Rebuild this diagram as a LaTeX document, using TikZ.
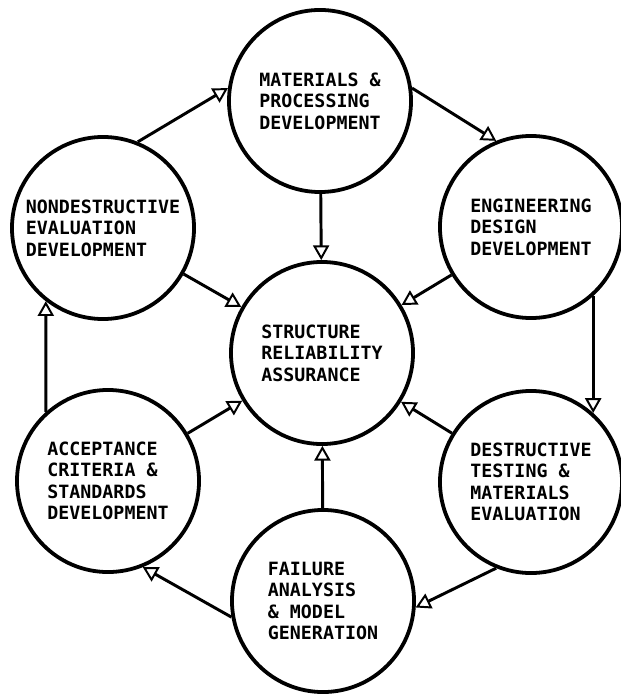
\documentclass[tikz,border=0pt]{standalone}
\usepackage{fontspec}
\setmonofont{DejaVu Sans Mono}
\usetikzlibrary{arrows.meta}
\begin{document}
\begin{tikzpicture}[x=0.025cm, y=-0.025cm,
  cercle/.style={draw, circle, line width=2.7pt, minimum size=4.55cm, inner sep=0pt,
    align=left, font=\ttfamily\bfseries\fontsize{13}{15.3}\selectfont},
  fleche/.style={line width=2.1pt, -{Triangle[open, length=10.5pt, width=11.5pt, line width=1.4pt]}}]
  \useasboundingbox (0,0) rectangle (620,695);
  % Cercles
  \node [cercle] (mat)  at (320,101) {MATERIALS \&\\PROCESSING\\DEVELOPMENT};
  \node [cercle] (eng)  at (531,227) {ENGINEERING\\DESIGN\\DEVELOPMENT};
  \node [cercle] (des)  at (531,482) {DESTRUCTIVE\\TESTING \&\\MATERIALS\\EVALUATION};
  \node [cercle] (fail) at (323,601) {FAILURE\\ANALYSIS\\\& MODEL\\GENERATION};
  \node [cercle] (acc)  at (108,481) {ACCEPTANCE\\CRITERIA \&\\STANDARDS\\DEVELOPMENT};
  \node [cercle] (nde)  at (103,228) {NONDESTRUCTIVE\\EVALUATION\\DEVELOPMENT};
  \node [cercle] (sra)  at (322,353) {STRUCTURE\\RELIABILITY\\ASSURANCE};
  % Flèches vers le centre
  \foreach \n in {mat,eng,des,fail,acc,nde}
    \draw [fleche] (\n) -- (sra);
  % Flèches du tour
  \draw [fleche] (mat.8) -- (eng.112);
  \draw [fleche] (eng.-48) -- (des.48);
  \draw [fleche] (des.-112) -- (fail.-4);
  \draw [fleche] (fail.190) -- (acc.-68);
  \draw [fleche] (acc.132) -- (nde.-128);
  \draw [fleche] (nde.68) -- (mat.172);
\end{tikzpicture}
\end{document}
